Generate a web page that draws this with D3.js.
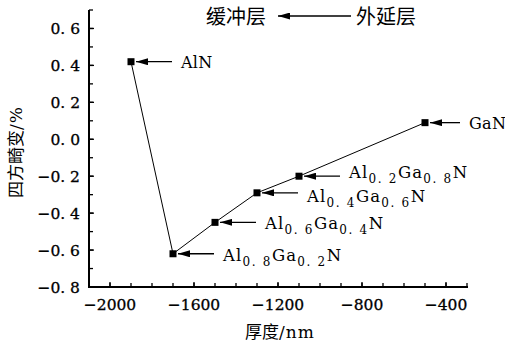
<!DOCTYPE html>
<html><head><meta charset="utf-8">
<script src="https://cdn.jsdelivr.net/npm/d3@7"></script>
<style>
html,body{margin:0;padding:0;background:#fff;}
svg{display:block;}
</style>
</head><body>
<svg id="c" width="505" height="345"></svg>
<script>
// ---- data ----
const thickness = [-1900, -1700, -1500, -1300, -1100, -500];
const distortion = [0.42, -0.62, -0.45, -0.29, -0.20, 0.09];
// material labels: [main, sub, main, sub, main]
const materials = [
  ["AlN"],
  ["Al", "0. 8", "Ga", "0. 2", "N"],
  ["Al", "0. 6", "Ga", "0. 4", "N"],
  ["Al", "0. 4", "Ga", "0. 6", "N"],
  ["Al", "0. 2", "Ga", "0. 8", "N"],
  ["GaN"]
];
const xTicks = [-2000, -1600, -1200, -800, -400];
const yTicks = [-0.8, -0.6, -0.4, -0.2, 0.0, 0.2, 0.4, 0.6];
const xTitle = ["厚度", "/nm"];
const yTitle = ["四方畸变", "/%"];
const layerLeft = "缓冲层";
const layerRight = "外延层";

// ---- layout ----
const svg = d3.select("#c");
const L = 89, R = 467, T = 10, B = 287;
const x = d3.scaleLinear().domain([-2100, -300]).range([L, R]);
const y = d3.scaleLinear().domain([-0.8, 0.7]).range([B, T]);
const serif = "'DejaVu Serif', serif";
const cjk = "'Noto Sans CJK SC', sans-serif";
const labelGap = [50, 50, 50, 50, 50, 44]; // text offset from the marker
const labelDy = [6, 7, 7, 9, 2, 6];       // baseline offset from the marker

svg.append("defs").append("marker")
  .attr("id", "ah").attr("viewBox", "0 0 12 7").attr("refX", 12).attr("refY", 3.5)
  .attr("markerWidth", 12).attr("markerHeight", 7).attr("markerUnits", "userSpaceOnUse")
  .attr("orient", "auto")
  .append("path").attr("d", "M0,0 L12,3.5 L0,7 Z").attr("fill", "#000");

const fmtNum = v => String(v).replace("-", "\u2212");
const fmtY = v => d3.format(".1f")(v).replace("-", "\u2212").replace(".", ". ");

// minor ticks
const xMinor = d3.range(-2100, -299, 100);
const yMinor = d3.range(-8, 8).map(i => i / 10);

// x axis
const gx = svg.append("g").attr("transform", `translate(0,${B})`);
gx.selectAll("line.minor").data(xMinor).join("line")
  .attr("x1", d => x(d)).attr("x2", d => x(d)).attr("y1", 0).attr("y2", -4)
  .attr("stroke", "#000").attr("stroke-width", 1.3);
gx.selectAll("line.major").data(xTicks).join("line")
  .attr("x1", d => x(d)).attr("x2", d => x(d)).attr("y1", 0).attr("y2", -5)
  .attr("stroke", "#000").attr("stroke-width", 1.3);
gx.selectAll("text").data(xTicks).join("text")
  .attr("x", d => x(d)).attr("y", 23).attr("text-anchor", "middle")
  .attr("font-family", serif).attr("font-size", 15.5)
  .attr("stroke", "#000").attr("stroke-width", 0.3).text(fmtNum);
gx.append("line").attr("x1", L - 1).attr("x2", R + 1).attr("stroke", "#000").attr("stroke-width", 2);

// y axis
const gy = svg.append("g").attr("transform", `translate(${L},0)`);
gy.selectAll("line.minor").data(yMinor).join("line")
  .attr("y1", d => y(d)).attr("y2", d => y(d)).attr("x1", 0).attr("x2", 4)
  .attr("stroke", "#000").attr("stroke-width", 1.3);
gy.selectAll("line.major").data(yTicks).join("line")
  .attr("y1", d => y(d)).attr("y2", d => y(d)).attr("x1", 0).attr("x2", 5)
  .attr("stroke", "#000").attr("stroke-width", 1.3);
gy.selectAll("text").data(yTicks).join("text")
  .attr("x", -9).attr("y", d => y(d) + 6).attr("text-anchor", "end")
  .attr("font-family", serif).attr("font-size", 15.5)
  .attr("stroke", "#000").attr("stroke-width", 0.3).text(fmtY);
gy.append("line").attr("y1", T).attr("y2", B + 1).attr("stroke", "#000").attr("stroke-width", 2);

// titles
const xt = svg.append("text").attr("x", 245).attr("y", 338).attr("font-size", 17);
xt.append("tspan").attr("font-family", cjk).text(xTitle[0]);
xt.append("tspan").attr("font-family", serif).attr("letter-spacing", 1).text(xTitle[1]);
const yt = svg.append("text").attr("transform", "translate(22,152) rotate(-90)")
  .attr("text-anchor", "middle").attr("font-size", 17);
yt.append("tspan").attr("font-family", cjk).text(yTitle[0]);
yt.append("tspan").attr("font-family", serif).attr("letter-spacing", 1).text(yTitle[1]);

// data line + markers
const pts = thickness.map((t, i) => [t, distortion[i]]);
svg.append("path").datum(pts)
  .attr("d", d3.line().x(d => x(d[0])).y(d => y(d[1])))
  .attr("fill", "none").attr("stroke", "#000").attr("stroke-width", 1);
svg.selectAll("rect.pt").data(pts).join("rect")
  .attr("x", d => x(d[0]) - 3.5).attr("y", d => y(d[1]) - 3.5)
  .attr("width", 7).attr("height", 7).attr("fill", "#000");

// label arrows
svg.selectAll("line.arr").data(pts).join("line")
  .attr("x1", (d, i) => x(d[0]) + labelGap[i] - 9).attr("x2", d => x(d[0]) + 5)
  .attr("y1", d => y(d[1])).attr("y2", d => y(d[1]))
  .attr("stroke", "#000").attr("stroke-width", 1.3).attr("marker-end", "url(#ah)");

// labels
pts.forEach((d, i) => {
  const single = materials[i].length === 1;
  const t = svg.append("text").attr("x", x(d[0]) + labelGap[i]).attr("y", y(d[1]) + labelDy[i])
    .attr("font-family", serif).attr("font-size", 16);
  materials[i].forEach((part, j) => {
    const sub = j % 2 === 1;
    t.append("tspan").text(part)
      .attr("font-size", sub ? 12 : (single ? 16 : 16.5))
      .attr("letter-spacing", sub ? 1.6 : (single ? 0.3 : 1.2))
      .attr("dy", sub ? 5 : (j > 0 ? -5 : 0));
  });
});

// top annotation
svg.append("text").attr("x", 206).attr("y", 24)
  .attr("font-family", cjk).attr("font-size", 20).text(layerLeft);
svg.append("line").attr("x1", 351).attr("x2", 278).attr("y1", 16).attr("y2", 16)
  .attr("stroke", "#000").attr("stroke-width", 1.3).attr("marker-end", "url(#ah)");
svg.append("text").attr("x", 356).attr("y", 24)
  .attr("font-family", cjk).attr("font-size", 20).text(layerRight);
</script>
</body></html>
